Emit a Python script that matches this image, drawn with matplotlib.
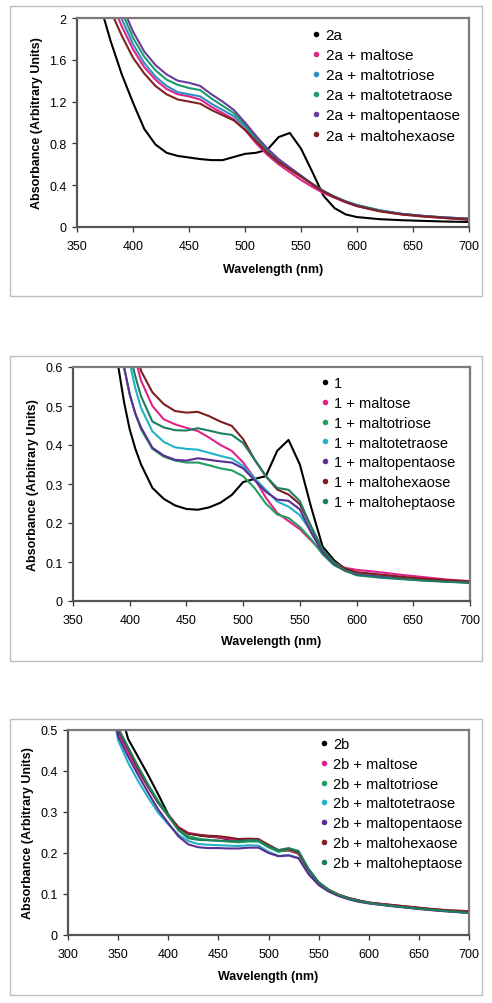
import matplotlib
matplotlib.use("Agg")
import matplotlib.pyplot as plt
from matplotlib.lines import Line2D
from matplotlib.patches import Rectangle
from matplotlib.ticker import FuncFormatter

plt.rcParams['font.family'] = ['Liberation Sans', 'DejaVu Sans']

# ---------------- Panel 1 : 2a ----------------
wl_2a = [370, 380, 390, 400, 410, 420, 430, 440, 450, 460, 470, 480, 490, 500,
         510, 520, 530, 540, 550, 560, 570, 580, 590, 600, 620, 640, 660, 680, 700]
labels_2a = ["2a", "2a + maltose", "2a + maltotriose", "2a + maltotetraose",
             "2a + maltopentaose", "2a + maltohexaose"]
a_2a = [2.15, 1.78, 1.46, 1.19, 0.94, 0.79, 0.71, 0.68, 0.665, 0.65, 0.64, 0.64, 0.67, 0.70,
        0.71, 0.74, 0.86, 0.90, 0.75, 0.53, 0.30, 0.18, 0.12, 0.095, 0.075, 0.065, 0.058, 0.052, 0.048]
a_2a_maltose = [2.47, 2.17, 1.92, 1.70, 1.53, 1.41, 1.32, 1.27, 1.25, 1.22, 1.15, 1.09, 1.03, 0.93,
                0.80, 0.69, 0.60, 0.525, 0.45, 0.385, 0.325, 0.28, 0.235, 0.20, 0.155, 0.12, 0.10, 0.085, 0.07]
a_2a_maltotriose = [2.55, 2.25, 1.99, 1.75, 1.57, 1.44, 1.35, 1.29, 1.27, 1.25, 1.18, 1.12, 1.06, 0.96,
                    0.84, 0.72, 0.63, 0.56, 0.49, 0.41, 0.345, 0.29, 0.245, 0.21, 0.16, 0.125, 0.105, 0.09, 0.08]
a_2a_maltotetraose = [2.62, 2.32, 2.06, 1.81, 1.63, 1.50, 1.41, 1.36, 1.33, 1.31, 1.23, 1.16, 1.09, 0.98,
                      0.85, 0.73, 0.64, 0.565, 0.49, 0.415, 0.345, 0.29, 0.245, 0.21, 0.16, 0.125, 0.105, 0.09, 0.08]
a_2a_maltopentaose = [2.70, 2.40, 2.12, 1.87, 1.68, 1.55, 1.46, 1.40, 1.38, 1.35, 1.27, 1.20, 1.12, 1.00,
                      0.87, 0.75, 0.65, 0.57, 0.49, 0.41, 0.34, 0.285, 0.24, 0.205, 0.155, 0.125, 0.105, 0.09, 0.08]
a_2a_maltohexaose = [2.37, 2.07, 1.83, 1.62, 1.47, 1.35, 1.27, 1.22, 1.20, 1.18, 1.12, 1.07, 1.02, 0.93,
                     0.82, 0.71, 0.62, 0.55, 0.48, 0.41, 0.34, 0.285, 0.24, 0.20, 0.15, 0.12, 0.10, 0.085, 0.07]
colors_2a = ["#000000", "#E0228A", "#2E8FC4", "#1E9A6A", "#6A3A9C", "#7E2222"]

# ---------------- Panel 2 : 1 ----------------
wl_1 = [385, 390, 395, 400, 405, 410, 420, 430, 440, 450, 460, 470, 480, 490, 500,
        510, 520, 530, 540, 550, 560, 570, 580, 590, 600, 620, 640, 660, 680, 700]
labels_1 = ["1", "1 + maltose", "1 + maltotriose", "1 + maltotetraose",
            "1 + maltopentaose", "1 + maltohexaose", "1 + maltoheptaose"]
a_1 = [0.70, 0.60, 0.51, 0.44, 0.39, 0.35, 0.29, 0.262, 0.245, 0.236, 0.234, 0.24, 0.252, 0.272, 0.305,
       0.313, 0.32, 0.385, 0.413, 0.35, 0.24, 0.14, 0.105, 0.082, 0.07, 0.063, 0.058, 0.055, 0.051, 0.048]
a_1_maltose = [0.95, 0.85, 0.76, 0.69, 0.62, 0.565, 0.50, 0.466, 0.453, 0.444, 0.436, 0.419, 0.40, 0.385, 0.355,
               0.315, 0.265, 0.226, 0.205, 0.184, 0.155, 0.125, 0.097, 0.085, 0.08, 0.074, 0.067, 0.061, 0.055, 0.051]
a_1_maltotriose = [0.78, 0.68, 0.60, 0.53, 0.48, 0.44, 0.39, 0.37, 0.36, 0.355, 0.355, 0.348, 0.34, 0.335, 0.32,
                   0.29, 0.25, 0.222, 0.213, 0.19, 0.158, 0.12, 0.092, 0.078, 0.07, 0.064, 0.059, 0.054, 0.05, 0.047]
a_1_maltotetraose = [0.88, 0.78, 0.69, 0.61, 0.545, 0.495, 0.435, 0.408, 0.394, 0.39, 0.388, 0.38, 0.372, 0.365, 0.346,
                     0.315, 0.285, 0.255, 0.242, 0.22, 0.178, 0.13, 0.10, 0.082, 0.072, 0.065, 0.06, 0.055, 0.051, 0.048]
a_1_maltopentaose = [0.78, 0.69, 0.60, 0.53, 0.48, 0.445, 0.393, 0.373, 0.362, 0.36, 0.366, 0.362, 0.358, 0.355, 0.34,
                     0.31, 0.28, 0.26, 0.257, 0.235, 0.175, 0.125, 0.095, 0.077, 0.068, 0.062, 0.057, 0.053, 0.05, 0.047]
a_1_maltohexaose = [0.98, 0.89, 0.80, 0.72, 0.65, 0.59, 0.535, 0.505, 0.487, 0.483, 0.485, 0.474, 0.46, 0.449, 0.415,
                    0.363, 0.32, 0.286, 0.273, 0.248, 0.19, 0.132, 0.10, 0.083, 0.074, 0.068, 0.062, 0.057, 0.053, 0.05]
a_1_maltoheptaose = [0.92, 0.82, 0.72, 0.635, 0.575, 0.525, 0.46, 0.445, 0.438, 0.437, 0.443, 0.437, 0.43, 0.426, 0.405,
                     0.363, 0.32, 0.29, 0.285, 0.256, 0.19, 0.132, 0.098, 0.078, 0.066, 0.06, 0.056, 0.052, 0.049, 0.047]
colors_1 = ["#000000", "#E0228A", "#1FA05E", "#22B2C6", "#5E2D91", "#7E1E1E", "#1E7F5F"]

# ---------------- Panel 3 : 2b ----------------
wl_2b = [340, 345, 350, 360, 370, 380, 390, 400, 410, 420, 430, 440, 450, 460, 470, 480, 490, 500,
         510, 520, 530, 540, 550, 560, 570, 580, 590, 600, 620, 640, 660, 680, 700]
labels_2b = ["2b", "2b + maltose", "2b + maltotriose", "2b + maltotetraose",
             "2b + maltopentaose", "2b + maltohexaose", "2b + maltoheptaose"]
a_2b = [0.70, 0.63, 0.565, 0.478, 0.434, 0.39, 0.343, 0.294, 0.262, 0.248, 0.243, 0.240, 0.238, 0.233, 0.229, 0.231, 0.232, 0.215,
        0.204, 0.207, 0.199, 0.16, 0.128, 0.11, 0.098, 0.09, 0.084, 0.079, 0.073, 0.068, 0.063, 0.059, 0.056]
a_2b_maltose = [0.62, 0.56, 0.495, 0.445, 0.40, 0.36, 0.322, 0.292, 0.263, 0.249, 0.245, 0.241, 0.238, 0.235, 0.232, 0.233, 0.232, 0.218,
                0.205, 0.206, 0.198, 0.158, 0.127, 0.11, 0.098, 0.09, 0.084, 0.079, 0.074, 0.069, 0.064, 0.06, 0.058]
a_2b_maltotriose = [0.63, 0.565, 0.50, 0.455, 0.41, 0.367, 0.327, 0.293, 0.259, 0.241, 0.235, 0.232, 0.230, 0.228, 0.226, 0.228, 0.228, 0.214,
                    0.203, 0.208, 0.20, 0.158, 0.127, 0.109, 0.097, 0.089, 0.083, 0.078, 0.072, 0.067, 0.062, 0.058, 0.054]
a_2b_maltotetraose = [0.60, 0.54, 0.475, 0.42, 0.375, 0.335, 0.298, 0.27, 0.245, 0.229, 0.222, 0.220, 0.219, 0.218, 0.217, 0.219, 0.218, 0.203,
                      0.193, 0.195, 0.188, 0.150, 0.123, 0.107, 0.096, 0.088, 0.082, 0.078, 0.072, 0.067, 0.062, 0.058, 0.054]
a_2b_maltopentaose = [0.61, 0.55, 0.485, 0.435, 0.39, 0.347, 0.306, 0.273, 0.241, 0.221, 0.214, 0.212, 0.212, 0.211, 0.211, 0.213, 0.213, 0.200,
                      0.192, 0.194, 0.187, 0.148, 0.122, 0.106, 0.095, 0.087, 0.081, 0.077, 0.071, 0.066, 0.061, 0.057, 0.054]
a_2b_maltohexaose = [0.63, 0.565, 0.50, 0.455, 0.405, 0.362, 0.322, 0.291, 0.263, 0.247, 0.244, 0.242, 0.241, 0.238, 0.234, 0.235, 0.234, 0.220,
                     0.207, 0.210, 0.201, 0.159, 0.128, 0.11, 0.098, 0.09, 0.084, 0.079, 0.074, 0.069, 0.064, 0.06, 0.058]
a_2b_maltoheptaose = [0.63, 0.57, 0.505, 0.458, 0.41, 0.365, 0.323, 0.29, 0.256, 0.236, 0.232, 0.231, 0.230, 0.229, 0.229, 0.231, 0.231, 0.216,
                      0.207, 0.212, 0.205, 0.161, 0.129, 0.11, 0.098, 0.089, 0.083, 0.078, 0.072, 0.067, 0.062, 0.058, 0.054]
colors_2b = colors_1

# ---------------- Figure ----------------
W, H = 492, 1004
fig = plt.figure(figsize=(W / 100, H / 100), dpi=100)


def add_axes_px(l, t, r, b):
    return fig.add_axes([l / W, 1 - b / H, (r - l) / W, (b - t) / H])


def outer_box(l, t, r, b):
    fig.add_artist(Rectangle((l / W, 1 - b / H), (r - l) / W, (b - t) / H,
                             transform=fig.transFigure, fill=False,
                             edgecolor="#BEBEBE", linewidth=1.0))


def draw_panel(box, axbox, wl, series, labels, colors, xlim, xticks, ylim, yticks,
               leg_xy, ylab_x, xlab_y, leg_fs):
    outer_box(*box)
    ax = add_axes_px(*axbox)
    for y, lab, c in zip(series, labels, colors):
        ax.plot(wl, y, color=c, lw=1.5, label=lab, solid_joinstyle="round",
                solid_capstyle="round")
    ax.set_xlim(*xlim)
    ax.set_ylim(*ylim)
    ax.set_xticks(xticks)
    ax.set_yticks(yticks)
    ax.yaxis.set_major_formatter(FuncFormatter(lambda v, p: f"{v:g}"))
    ax.tick_params(direction="out", length=3.5, width=0.9, labelsize=9,
                   color="#333333", pad=4)
    ax.tick_params(axis="x", pad=6)
    for s in ["top", "right"]:
        ax.spines[s].set_color("#7A7A7A")
        ax.spines[s].set_linewidth(1.6)
    for s in ["left", "bottom"]:
        ax.spines[s].set_color("#555555")
        ax.spines[s].set_linewidth(1.6)
    l, t, r, b = axbox
    handles = [Line2D([], [], ls="none", marker="o", ms=4, color=c,
                      markeredgewidth=0) for c in colors]
    lx, ly = leg_xy
    ax.legend(handles, labels, loc="upper left", frameon=False,
              bbox_to_anchor=((lx - l) / (r - l), (b - ly) / (b - t)),
              borderpad=0, borderaxespad=0, handlelength=0.55,
              handletextpad=0.35, labelspacing=0.4, fontsize=leg_fs)
    fig.text(ylab_x / W, 1 - (t + b) / 2 / H, "Absorbance (Arbitrary Units)",
             rotation=90, ha="center", va="center", fontsize=9, fontweight="bold")
    fig.text((l + r) / 2 / W, 1 - xlab_y / H, "Wavelength (nm)",
             ha="center", va="center", fontsize=9, fontweight="bold")
    return ax


draw_panel((10, 7, 482, 297), (77, 19, 469, 228), wl_2a,
           [a_2a, a_2a_maltose, a_2a_maltotriose, a_2a_maltotetraose,
            a_2a_maltopentaose, a_2a_maltohexaose],
           labels_2a, colors_2a, (350, 700), range(350, 701, 50),
           (0, 2), [0, 0.4, 0.8, 1.2, 1.6, 2.0], (312, 29), 37, 270, 11)

draw_panel((10, 357, 482, 662), (73, 368, 470, 602), wl_1,
           [a_1, a_1_maltose, a_1_maltotriose, a_1_maltotetraose,
            a_1_maltopentaose, a_1_maltohexaose, a_1_maltoheptaose],
           labels_1, colors_1, (350, 700), range(350, 701, 50),
           (0, 0.6), [0, 0.1, 0.2, 0.3, 0.4, 0.5, 0.6], (321, 377), 33, 642, 10.5)

draw_panel((10, 720, 482, 996), (68, 731, 469, 936), wl_2b,
           [a_2b, a_2b_maltose, a_2b_maltotriose, a_2b_maltotetraose,
            a_2b_maltopentaose, a_2b_maltohexaose, a_2b_maltoheptaose],
           labels_2b, colors_2b, (300, 700), range(300, 701, 50),
           (0, 0.5), [0, 0.1, 0.2, 0.3, 0.4, 0.5], (320, 738), 28, 977, 10.5)

fig.savefig("out.png", dpi=100)
